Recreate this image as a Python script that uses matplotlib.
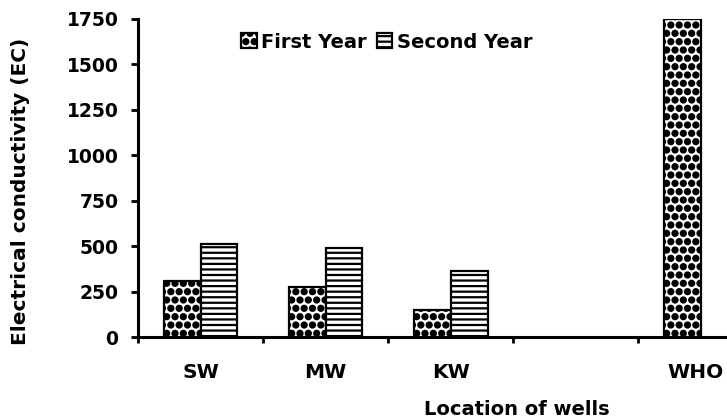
import matplotlib
matplotlib.use("Agg")
import matplotlib.pyplot as plt
import matplotlib.hatch as mhatch
import matplotlib.transforms as mtrans
import numpy as np

# ---- data ----
categories = ["SW", "MW", "KW", "", "WHO"]
first_year = [310, 273, 149, 0, 1750]
second_year = [510, 488, 365, 0, 0]
yticks = [0, 250, 500, 750, 1000, 1250, 1500, 1750]

# larger filled dots for the '.' hatch
mhatch.SmallFilledCircles.size = 0.3

plt.rcParams['font.family'] = ['DejaVu Sans']
plt.rcParams['font.weight'] = 'bold'
plt.rcParams['hatch.linewidth'] = 1.6
plt.rcParams['hatch.color'] = 'black'

W, H = 727, 419
fig = plt.figure(figsize=(W / 100, H / 100), dpi=100)
ax = fig.add_axes([138 / W, 1 - 337 / H, 1 - 138 / W, (337 - 19) / H])

x = np.arange(len(categories))
bw = 0.295
vals1 = [v if v > 0 else np.nan for v in first_year]
vals2 = [v if v > 0 else np.nan for v in second_year]
b1 = ax.bar(x - bw / 2, vals1, bw, facecolor='white', edgecolor='black',
            linewidth=1.6, hatch='..', label='First Year')
b2 = ax.bar(x + bw / 2, vals2, bw, facecolor='white', edgecolor='black',
            linewidth=1.6, hatch='---', label='Second Year')

ax.set_yticks(yticks)
ax.set_yticklabels([str(v) for v in yticks], fontsize=13.5, fontweight='bold')

# ticks at category boundaries, labels at centers
ax.set_xticks(np.arange(-0.5, 4.6, 1.0))
ax.set_xticklabels([])
ax.set_xticks(x, minor=True)
ax.set_xticklabels(categories, minor=True, fontsize=14.5, fontweight='bold')
ax.tick_params(axis='x', which='minor', length=0, pad=19)
ax.tick_params(axis='x', which='major', length=4, width=2, direction='out')
ax.tick_params(axis='y', length=5, width=2, direction='out', pad=9)

ax.set_xlim(-0.5, 4.21)
ax.set_ylim(0, 1750)

# keep the last (edge) category label inside the picture
who_label = ax.xaxis.get_minor_ticks()[-1].label1
who_label.set_transform(who_label.get_transform() +
                        mtrans.ScaledTranslation(-5 / 100, 0, fig.dpi_scale_trans))

for s in ['top', 'right']:
    ax.spines[s].set_visible(False)
for s in ['left', 'bottom']:
    ax.spines[s].set_linewidth(2.2)

fig.text(21 / W, 1 - 191 / H, "Electrical conductivity (EC)", rotation=90,
         ha='center', va='center', fontsize=14.5, fontweight='bold')
fig.text(517 / W, 1 - 409 / H, "Location of wells", ha='center', va='center',
         fontsize=14, fontweight='bold')

leg = fig.legend(handles=[b1, b2], loc='center left',
                 bbox_to_anchor=(241 / W, 1 - 42 / H), ncol=2, frameon=False,
                 prop={'size': 14, 'weight': 'bold'}, handlelength=0.8,
                 handleheight=0.8, handletextpad=0.25, columnspacing=0.5,
                 borderaxespad=0, borderpad=0)

fig.savefig("out.png", dpi=100)
